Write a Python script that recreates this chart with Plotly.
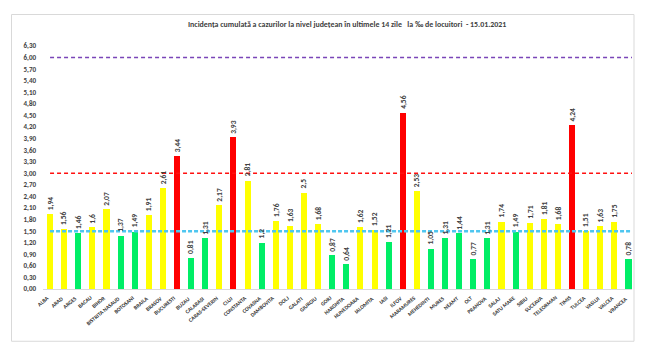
import plotly.graph_objects as go

counties = ["ALBA", "ARAD", "ARGES", "BACAU", "BIHOR", "BISTRITA NASAUD", "BOTOSANI",
            "BRAILA", "BRASOV", "BUCURESTI", "BUZAU", "CALARASI", "CARAS-SEVERIN", "CLUJ",
            "CONSTANTA", "COVASNA", "DAMBOVITA", "DOLJ", "GALATI", "GIURGIU", "GORJ",
            "HARGHITA", "HUNEDOARA", "IALOMITA", "IASI", "ILFOV", "MARAMURES", "MEHEDINTI",
            "MURES", "NEAMT", "OLT", "PRAHOVA", "SALAJ", "SATU MARE", "SIBIU", "SUCEAVA",
            "TELEORMAN", "TIMIS", "TULCEA", "VASLUI", "VALCEA", "VRANCEA"]
values = [1.94, 1.56, 1.46, 1.6, 2.07, 1.37, 1.49, 1.91, 2.61, 3.44, 0.81, 1.31, 2.17, 3.93,
          2.81, 1.2, 1.76, 1.63, 2.5, 1.68, 0.87, 0.64, 1.62, 1.52, 1.21, 4.56, 2.53, 1.05,
          1.31, 1.44, 0.77, 1.31, 1.74, 1.49, 1.71, 1.81, 1.68, 4.24, 1.51, 1.63, 1.75, 0.78]
thresholds = [1.5, 3.0, 6.0]
ytick_vals = [round(i * 0.3, 2) for i in range(22)]
title_text = "Incidența cumulată a cazurilor la nivel județean în ultimele 14 zile   la ‰ de locuitori  - 15.01.2021"

GREEN, YELLOW, RED = "#00EE66", "#FFFF00", "#FF0000"
colors = [GREEN if v < thresholds[0] else (YELLOW if v <= thresholds[1] else RED) for v in values]
labels = [str(v).replace(".", ",") for v in values]
xs = list(range(len(counties)))

FONT = "Carlito, Lato, Liberation Sans, sans-serif"
TXT = "#404040"

fig = go.Figure()
fig.add_trace(go.Bar(
    x=xs, y=values, marker=dict(color=colors, line=dict(width=0)), width=0.43,
    hoverinfo="skip"))

for x, v, lab in zip(xs, values, labels):
    fig.add_annotation(x=x, y=v, text=lab, textangle=-90, showarrow=False,
                       xanchor="center", yanchor="bottom", yshift=2,
                       font=dict(family=FONT, size=7.5, color=TXT, weight=700))

# category labels, slanted
for x, name in zip(xs, counties):
    fig.add_annotation(x=x, y=0, text=name, textangle=-40, showarrow=False,
                       xanchor="right", yanchor="top", yshift=-3, xshift=3,
                       font=dict(family=FONT, size=5.5, color="#303030", weight=700))

# threshold lines
line_styles = {1.5: dict(color="#4EC6F0", width=2.5, dash="4px,2px"),
               3.0: dict(color="#FF1010", width=1.5, dash="4px,3px"),
               6.0: dict(color="#7A45B8", width=1.5, dash="4px,3px")}
for t in thresholds:
    fig.add_shape(type="line", xref="x", yref="y", x0=0, x1=41.25, y0=t, y1=t,
                  line=line_styles[t], layer="above")

# outer chart border
L, R, T, B = 43, 632, 45.5, 288.7
W, H = 648, 351
pw, ph = R - L, B - T
fig.add_shape(type="rect", xref="paper", yref="paper",
              x0=(11.5 - L) / pw, x1=(634 - L) / pw,
              y0=(B - 341) / ph, y1=(B - 14) / ph,
              line=dict(color="#D9D9D9", width=1), layer="below")

fig.add_annotation(text=title_text, xref="paper", yref="paper",
                   x=(347 - L) / pw, y=(B - 23) / ph, showarrow=False,
                   xanchor="center", yanchor="middle",
                   font=dict(family=FONT, size=7.9, color=TXT, weight=600))

fig.update_layout(
    width=W, height=H, margin=dict(l=L, r=W - R, t=T, b=H - B),
    paper_bgcolor="white", plot_bgcolor="white", showlegend=False,
    separators=",.", bargap=0,
    xaxis=dict(range=[-0.5, 41.25], showticklabels=False, showgrid=False,
               showline=True, linecolor="#D9D9D9", linewidth=1, ticks="", zeroline=False,
               automargin=False),
    yaxis=dict(range=[0, 6.3], tickvals=ytick_vals, tickformat=".2f",
               tickfont=dict(family=FONT, size=7, color=TXT, weight=600), showgrid=False,
               showline=False, ticks="", zeroline=False, ticklabelstandoff=6,
               automargin=False),
)
fig.write_html("out.html")
